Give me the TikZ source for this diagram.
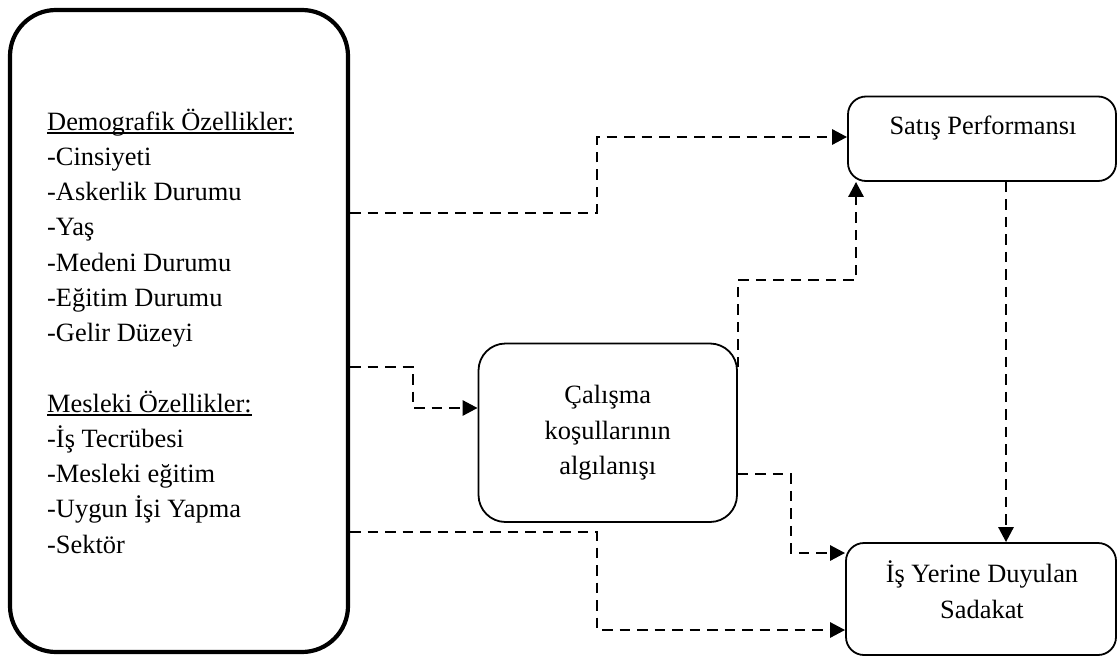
\documentclass[tikz,border=0pt]{standalone}
\usepackage{fontspec}
\setmainfont{Liberation Serif}
\usetikzlibrary{arrows.meta}
\newcommand\myul[1]{\setbox0\hbox{#1}\rlap{\rule[-3.5pt]{\wd0}{1.2pt}}\box0}
\begin{document}
\begin{tikzpicture}[x=1pt,y=-1pt,
  every node/.style={font=\fontsize{26.4}{35.25}\selectfont},
  bigbox/.style={draw, line width=4.2pt, rounded corners=46pt, inner sep=0pt},
  smallbox/.style={draw, line width=1.8pt, rounded corners=18pt, inner sep=0pt},
  txt/.style={inner sep=0pt, align=center},
  conn/.style={line width=2.8pt, dash pattern=on 10.5pt off 7pt,
    -{Triangle[length=15pt,width=15pt]}}
]
\useasboundingbox (0,0) rectangle (1118,658);

% boxes
\node[bigbox, minimum width=338pt, minimum height=642pt] (lb) at (179,331) {};
\node[smallbox, minimum width=268pt, minimum height=84.5pt] (sp) at (982,138.75) {};
\node[smallbox, rounded corners=27pt, minimum width=258.5pt, minimum height=178.5pt,
      align=center] (cw) at (607.75,432.75) {Çalışma\\koşullarının\\algılanışı};
\node[smallbox, minimum width=270pt, minimum height=112pt] (iy) at (981,599) {};

% texts (base anchor = baseline of the last line)
\node[txt, anchor=base west, align=left] (lbt) at (47,553)
  {\myul{Demografik Özellikler:}\\-Cinsiyeti\\-Askerlik Durumu\\-Yaş\\-Medeni Durumu\\-Eğitim Durumu\\-Gelir Düzeyi\\[35.25pt]\myul{Mesleki Özellikler:}\\-İş Tecrübesi\\-Mesleki eğitim\\-Uygun İşi Yapma\\-Sektör};
\node[txt, anchor=base] (spt) at (983,135) {Satış Performansı};
\node[txt, anchor=base] (iyt) at (982,618) {İş Yerine Duyulan\\Sadakat};

% connectors
\draw[conn] (lb.east |- 0,213) -| (597,137) -- (sp.west |- 0,137);
\draw[conn] (lb.east |- 0,367) -| (413,408) -- (cw.west |- 0,408);
\draw[conn] (lb.east |- 0,532) -| (597,630) -- (iy.west |- 0,630);
\draw[conn] (cw.east |- 0,474) -| (791,553) -- (iy.west |- 0,553);
\draw[conn] (cw.east |- 0,367) |- (856,280) -- (sp.south -| 856,0);
\draw[conn] (sp.south -| 1006,0) -- (iy.north -| 1006,0);
\end{tikzpicture}
\end{document}
